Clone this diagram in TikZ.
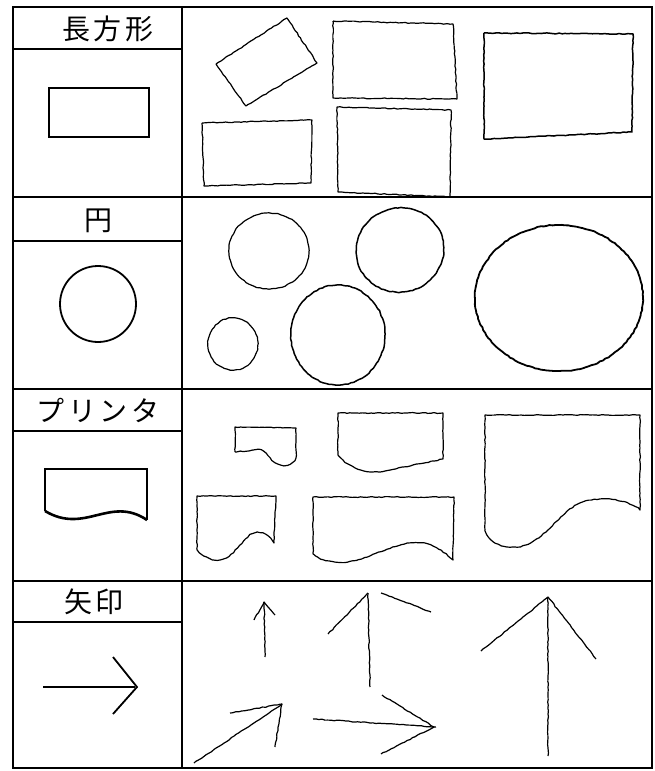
\documentclass[tikz,border=0pt]{standalone}
\usepackage{fontspec}
\newfontfamily\jpfont[LetterSpace=14]{Noto Sans CJK JP}
\usetikzlibrary{decorations.pathmorphing}
\begin{document}
\begin{tikzpicture}[x=1pt,y=-1pt,
  frame/.style={line width=1.3pt},
  sym/.style={line width=1.8pt},
  hand/.style={line width=1.2pt, line join=round, decorate,
    decoration={random steps, segment length=3pt, amplitude=0.45pt}},
  heading/.style={font=\jpfont\fontsize{28}{28}\selectfont, inner sep=0pt}]
\pgfmathsetseed{7}
\useasboundingbox (0,0) rectangle (655,771);
\fill[white] (0,0) rectangle (655,771);
% frame
\draw[frame] (13,7) rectangle (652,768);
\draw[frame] (182,7) -- (182,768);
\draw[frame] (13,197) -- (652,197);
\draw[frame] (13,389) -- (652,389);
\draw[frame] (13,581) -- (652,581);
\draw[frame] (13,49) -- (182,49);
\draw[frame] (13,241) -- (182,241);
\draw[frame] (13,431) -- (182,431);
\draw[frame] (13,622) -- (182,622);
% headings
\node[heading] (h1) at (108,29) {長方形};
\node[heading] (h2) at (98,221) {円};
\node[heading] (h3) at (98,410) {プリンタ};
\node[heading] (h4) at (94,602) {矢印};
% left symbols
\draw[sym] (49,88) rectangle (149,137);
\draw[sym] (98,304) circle (38);
\draw[sym] (45,511) -- (45,469) -- (147,469) -- (147,520);
\draw[line width=2.6pt] (147,520) .. controls (110,495) and (85,535) .. (45,511);
\draw[line width=2.6pt] (43,687) -- (135,687);
\draw[sym] (113,657) -- (137,687) -- (113,714);
% row 1 rectangles
\draw[hand] (216,64) -- (287,18) -- (317,63) -- (246,106) -- (216,64);
\draw[hand] (333,21) -- (453,24) -- (457,99) -- (333,98) -- (333,21);
\draw[hand] (202,123) -- (312,120) -- (311,183) -- (204,186) -- (202,123);
\draw[hand] (337,107) -- (451,110) -- (450,197) -- (338,192) -- (337,107);
\draw[hand, line width=1.5pt] (484,33) -- (633,34) -- (632,132) -- (484,139) -- (484,33);
% row 2 circles
\draw[hand] (269,251) ellipse [x radius=40, y radius=38];
\draw[hand, line width=1.5pt] (400,250) ellipse [x radius=44, y radius=42, rotate=15];
\draw[hand] (233,344) ellipse [x radius=25, y radius=26];
\draw[hand, line width=1.5pt] (338,335) ellipse [x radius=47, y radius=50];
\draw[hand, line width=1.8pt] (559,298) ellipse [x radius=84, y radius=73];
% row 3 printers
\draw[hand] (235,452) -- (235,427) -- (296,428) -- (296,458)
  .. controls (292,467) and (280,468) .. (272,460)
  .. controls (266,452) and (262,449) .. (255,450) -- (235,452);
\draw[hand] (338,455) -- (338,413) -- (443,413) -- (443,459) -- (385,471)
  .. controls (370,474) and (350,470) .. (338,455);
\draw[hand] (485,530) -- (485,415) -- (640,415) -- (640,510)
  .. controls (630,500) and (600,495) .. (580,503)
  .. controls (555,515) and (540,550) .. (510,547)
  .. controls (495,546) and (486,538) .. (485,530);
\draw[hand] (197,548) -- (197,496) -- (276,496) -- (274,543)
  .. controls (268,533) and (258,530) .. (250,535)
  .. controls (238,545) and (230,562) .. (215,560)
  .. controls (205,558) and (198,553) .. (197,548);
\draw[hand] (313,553) -- (313,497) -- (454,497) -- (453,560)
  .. controls (440,548) and (425,540) .. (410,543)
  .. controls (380,548) and (360,565) .. (335,562)
  .. controls (325,561) and (316,558) .. (313,553);
% row 4 arrows
\draw[hand] (265,657) -- (264,602);
\draw[hand] (254,620) -- (264,602) -- (275,615);
\draw[hand] (370,687) -- (368,593);
\draw[hand] (368,593) -- (328,634);
\draw[hand] (381,593) -- (431,612);
\draw[hand] (548,756) -- (548,597);
\draw[hand] (481,651) -- (548,597) -- (596,659);
\draw[hand] (194,763) -- (282,704);
\draw[hand] (230,713) -- (282,704) -- (275,747);
\draw[hand] (313,719) -- (436,727);
\draw[hand] (382,695) -- (434,727) -- (381,754);
\end{tikzpicture}
\end{document}
